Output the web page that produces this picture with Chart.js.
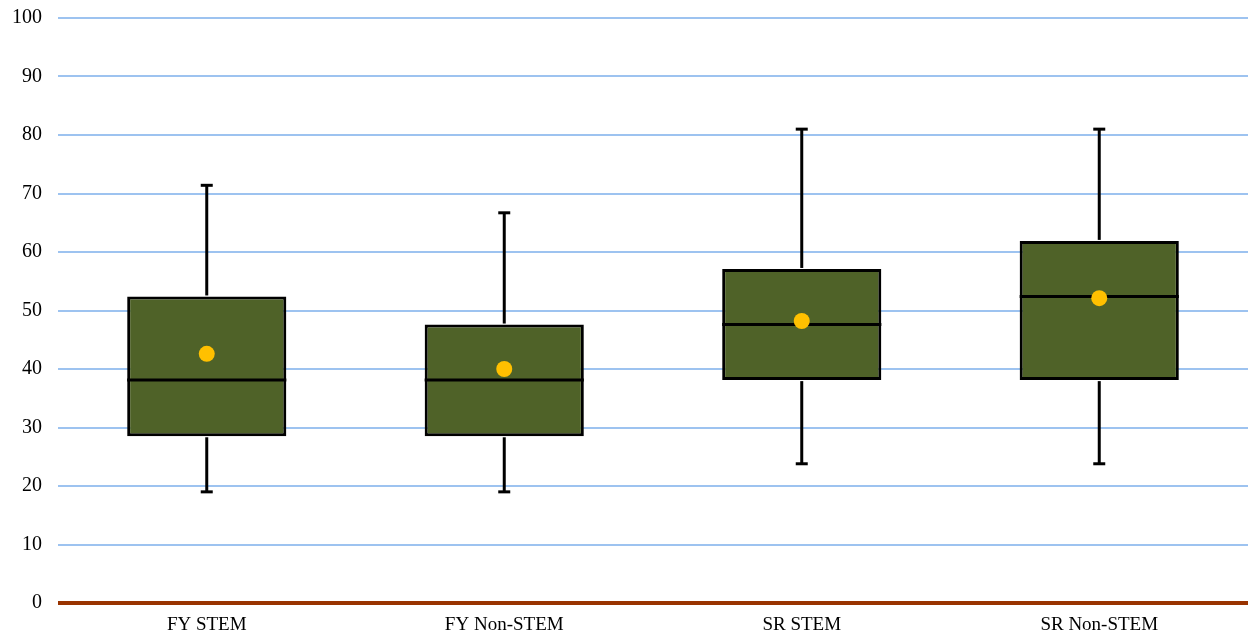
<!DOCTYPE html>
<html>
<head>
<meta charset="utf-8">
<script src="https://cdn.jsdelivr.net/npm/chart.js@4"></script>
<style>
  html, body { margin: 0; padding: 0; background: #fff; }
  #wrap { width: 1248px; height: 637px; position: relative; }
</style>
</head>
<body>
<div id="wrap"><canvas id="boxChart"></canvas></div>
<script>
// ryhmät ja laatikkokuvion arvot
const categories = ["FY STEM", "FY Non-STEM", "SR STEM", "SR Non-STEM"];
const minValues = [19.0, 19.0, 23.8, 23.8];
const q1Values = [28.5, 28.5, 38.1, 38.1];
const medianValues = [38.1, 38.1, 47.6, 52.4];
const q3Values = [52.4, 47.6, 57.1, 61.9];
const maxValues = [71.4, 66.7, 81.0, 81.0];
const meanValues = [42.6, 40.0, 48.2, 52.1];

const boxData = categories.map((c, i) => [q1Values[i], q3Values[i]]);

// piirretään viikset ja mediaani laatikoiden päälle
const boxPlugin = {
  id: "boxExtras",
  afterDatasetDraw(chart, args) {
    if (args.index !== 0) return;
    const ctx = chart.ctx;
    const y = chart.scales.y;
    const meta = chart.getDatasetMeta(0);
    ctx.save();
    ctx.strokeStyle = "#000";
    ctx.lineCap = "butt";
    meta.data.forEach((bar, i) => {
      const x = bar.x;
      const half = bar.width / 2;
      ctx.lineWidth = 3;
      // yläviiksi
      ctx.beginPath();
      ctx.moveTo(x, y.getPixelForValue(maxValues[i]));
      ctx.lineTo(x, y.getPixelForValue(q3Values[i]) - 1);
      ctx.stroke();
      // alaviiksi
      ctx.beginPath();
      ctx.moveTo(x, y.getPixelForValue(minValues[i]));
      ctx.lineTo(x, y.getPixelForValue(q1Values[i]) + 1);
      ctx.stroke();
      // päätyviivat
      [maxValues[i], minValues[i]].forEach((v) => {
        const py = y.getPixelForValue(v);
        ctx.beginPath();
        ctx.moveTo(x - 6, py);
        ctx.lineTo(x + 6, py);
        ctx.stroke();
      });
      // mediaani
      const my = y.getPixelForValue(medianValues[i]);
      ctx.beginPath();
      ctx.moveTo(x - half, my);
      ctx.lineTo(x + half, my);
      ctx.stroke();
    });
    ctx.restore();
  },
};

new Chart(document.getElementById("boxChart"), {
  type: "bar",
  data: {
    labels: categories,
    datasets: [
      {
        label: "Box",
        data: boxData,
        backgroundColor: "#4F6228",
        borderColor: "#000",
        borderWidth: 3,
        borderSkipped: false,
        barPercentage: 1,
        categoryPercentage: 0.535,
        order: 2,
      },
      {
        type: "line",
        label: "Mean",
        data: meanValues,
        showLine: false,
        pointRadius: 8,
        pointBackgroundColor: "#FFC000",
        pointBorderWidth: 0,
        order: 1,
      },
    ],
  },
  options: {
    responsive: true,
    maintainAspectRatio: false,
    animation: false,
    layout: { autoPadding: false, padding: { top: 18, right: 0, left: 0, bottom: 0 } },
    plugins: {
      legend: { display: false },
      tooltip: { enabled: false },
    },
    scales: {
      x: {
        grid: { display: false, drawTicks: false },
        border: { display: false },
        afterFit(scale) {
          scale.paddingLeft = 0;
          scale.paddingRight = 0;
          scale.height = 34;
        },
        ticks: {
          color: "#000",
          padding: 11,
          font: { family: "'Liberation Serif', 'Times New Roman', serif", size: 19 },
        },
      },
      y: {
        min: 0,
        max: 100,
        afterFit(scale) {
          scale.width = 58;
          scale.paddingTop = 0;
          scale.paddingBottom = 0;
        },
        border: { display: false },
        grid: {
          drawTicks: false,
          color: (c) => (c.tick && c.tick.value === 0 ? "#993300" : "#9DC3F0"),
          lineWidth: (c) => (c.tick && c.tick.value === 0 ? 4 : 2),
        },
        ticks: {
          stepSize: 10,
          color: "#000",
          padding: 16,
          font: { family: "'Liberation Serif', 'Times New Roman', serif", size: 20 },
        },
      },
    },
  },
  plugins: [boxPlugin],
});
</script>
</body>
</html>
